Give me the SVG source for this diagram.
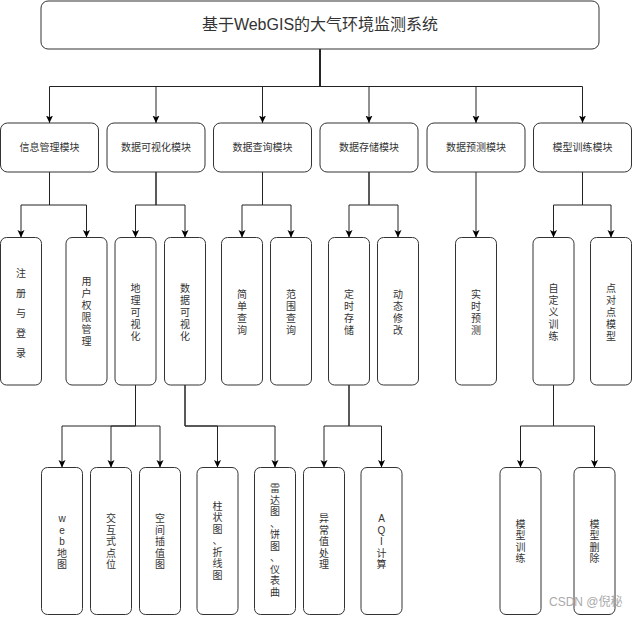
<svg xmlns="http://www.w3.org/2000/svg" width="632" height="617" viewBox="0 0 632 617">
<style>
.box{fill:#fff;stroke:#333;stroke-width:1}
.c{fill:none;stroke:#222;stroke-width:1;marker-end:url(#arr)}
text{font-family:"Liberation Sans","Noto Sans CJK SC",sans-serif;fill:#333;dominant-baseline:central;text-anchor:middle}
.t{font-size:16px}
.m{font-size:10px}
.v{font-size:10px}
.wm{font-size:12px;fill:#aaa;text-anchor:start}
</style>
<defs>
<marker id="arr" viewBox="0 0 8 8" markerWidth="8" markerHeight="8" refX="7.5" refY="4" orient="auto" markerUnits="userSpaceOnUse">
<path d="M0,0.5 L7.5,4 L0,7.5 L1.8,4 Z" fill="#000"/>
</marker>
</defs>

<g id="connectors">
<path class="c" d="M320,49 V86.5 H49.5 V123"/>
<path class="c" d="M320,49 V86.5 H156 V123"/>
<path class="c" d="M320,49 V86.5 H262.5 V123"/>
<path class="c" d="M320,49 V86.5 H369 V123"/>
<path class="c" d="M320,49 V86.5 H476 V123"/>
<path class="c" d="M320,49 V86.5 H582.5 V123"/>
<path class="c" d="M49.5,172 V205 H21 V237.5"/>
<path class="c" d="M49.5,172 V205 H86.5 V237.5"/>
<path class="c" d="M156,172 V205 H135.5 V237.5"/>
<path class="c" d="M156,172 V205 H185 V237.5"/>
<path class="c" d="M262.5,172 V205 H242 V237.5"/>
<path class="c" d="M262.5,172 V205 H291 V237.5"/>
<path class="c" d="M369,172 V205 H349 V237.5"/>
<path class="c" d="M369,172 V205 H398 V237.5"/>
<path class="c" d="M476,172 V237.5"/>
<path class="c" d="M582.5,172 V205 H553.5 V237.5"/>
<path class="c" d="M582.5,172 V205 H611 V237.5"/>
<path class="c" d="M135.5,385 V426 H62 V467.5"/>
<path class="c" d="M135.5,385 V426 H111 V467.5"/>
<path class="c" d="M135.5,385 V426 H160 V467.5"/>
<path class="c" d="M185,385 V426 H217.5 V467.5"/>
<path class="c" d="M185,385 V426 H275 V467.5"/>
<path class="c" d="M349,385 V426 H324 V467.5"/>
<path class="c" d="M349,385 V426 H381.5 V467.5"/>
<path class="c" d="M553.5,385 V426 H520.5 V467.5"/>
<path class="c" d="M553.5,385 V426 H594.5 V467.5"/>
</g>

<g id="root">
<rect class="box" x="41" y="1" width="558" height="48" rx="7"/>
<text class="t" x="320" y="24.5">基于WebGIS的大气环境监测系统</text>
</g>

<g id="m1"><rect class="box" x="0.5" y="123" width="98" height="49" rx="7"/><text class="m" x="49.5" y="147.5">信息管理模块</text></g>
<g id="m2"><rect class="box" x="107" y="123" width="98" height="49" rx="7"/><text class="m" x="156" y="147.5">数据可视化模块</text></g>
<g id="m3"><rect class="box" x="213.5" y="123" width="98" height="49" rx="7"/><text class="m" x="262.5" y="147.5">数据查询模块</text></g>
<g id="m4"><rect class="box" x="320" y="123" width="98" height="49" rx="7"/><text class="m" x="369" y="147.5">数据存储模块</text></g>
<g id="m5"><rect class="box" x="427" y="123" width="98" height="49" rx="7"/><text class="m" x="476" y="147.5">数据预测模块</text></g>
<g id="m6"><rect class="box" x="533.5" y="123" width="98" height="49" rx="7"/><text class="m" x="582.5" y="147.5">模型训练模块</text></g>

<g id="n-zhuce"><rect class="box" x="0.5" y="237.5" width="41" height="147.5" rx="6"/>
<text class="v"><tspan x="21" y="272.5">注</tspan><tspan x="21" y="292.5">册</tspan><tspan x="21" y="312.5">与</tspan><tspan x="21" y="332.5">登</tspan><tspan x="21" y="352.5">录</tspan></text></g>
<g id="n-quanxian"><rect class="box" x="66" y="237.5" width="41" height="147.5" rx="6"/>
<text class="v"><tspan x="86.5" y="281">用</tspan><tspan x="86.5" y="293">户</tspan><tspan x="86.5" y="305">权</tspan><tspan x="86.5" y="317">限</tspan><tspan x="86.5" y="329">管</tspan><tspan x="86.5" y="341">理</tspan></text></g>
<g id="n-dili"><rect class="box" x="115" y="237.5" width="41" height="147.5" rx="6"/>
<text class="v"><tspan x="135.5" y="288">地</tspan><tspan x="135.5" y="300">理</tspan><tspan x="135.5" y="312">可</tspan><tspan x="135.5" y="324">视</tspan><tspan x="135.5" y="336">化</tspan></text></g>
<g id="n-shuju"><rect class="box" x="164.5" y="237.5" width="41" height="147.5" rx="6"/>
<text class="v"><tspan x="185" y="288">数</tspan><tspan x="185" y="300">据</tspan><tspan x="185" y="312">可</tspan><tspan x="185" y="324">视</tspan><tspan x="185" y="336">化</tspan></text></g>
<g id="n-jiandan"><rect class="box" x="221.5" y="237.5" width="41" height="147.5" rx="6"/>
<text class="v"><tspan x="242" y="294">简</tspan><tspan x="242" y="306">单</tspan><tspan x="242" y="318">查</tspan><tspan x="242" y="330">询</tspan></text></g>
<g id="n-fanwei"><rect class="box" x="270.5" y="237.5" width="41" height="147.5" rx="6"/>
<text class="v"><tspan x="291" y="294">范</tspan><tspan x="291" y="306">围</tspan><tspan x="291" y="318">查</tspan><tspan x="291" y="330">询</tspan></text></g>
<g id="n-dingshi"><rect class="box" x="328.5" y="237.5" width="41" height="147.5" rx="6"/>
<text class="v"><tspan x="349" y="294">定</tspan><tspan x="349" y="306">时</tspan><tspan x="349" y="318">存</tspan><tspan x="349" y="330">储</tspan></text></g>
<g id="n-dongtai"><rect class="box" x="377.5" y="237.5" width="41" height="147.5" rx="6"/>
<text class="v"><tspan x="398" y="294">动</tspan><tspan x="398" y="306">态</tspan><tspan x="398" y="318">修</tspan><tspan x="398" y="330">改</tspan></text></g>
<g id="n-shishi"><rect class="box" x="455.5" y="237.5" width="41" height="147.5" rx="6"/>
<text class="v"><tspan x="476" y="294">实</tspan><tspan x="476" y="306">时</tspan><tspan x="476" y="318">预</tspan><tspan x="476" y="330">测</tspan></text></g>
<g id="n-zidingyi"><rect class="box" x="533" y="237.5" width="41" height="147.5" rx="6"/>
<text class="v"><tspan x="553.5" y="288">自</tspan><tspan x="553.5" y="300">定</tspan><tspan x="553.5" y="312">义</tspan><tspan x="553.5" y="324">训</tspan><tspan x="553.5" y="336">练</tspan></text></g>
<g id="n-diandui"><rect class="box" x="590.5" y="237.5" width="41" height="147.5" rx="6"/>
<text class="v"><tspan x="611" y="288">点</tspan><tspan x="611" y="300">对</tspan><tspan x="611" y="312">点</tspan><tspan x="611" y="324">模</tspan><tspan x="611" y="336">型</tspan></text></g>

<g id="n-webmap"><rect class="box" x="41.5" y="467.5" width="41" height="147" rx="6"/>
<text class="v"><tspan x="62" y="518">w</tspan><tspan x="62" y="529.5">e</tspan><tspan x="62" y="541">b</tspan><tspan x="62" y="552.5">地</tspan><tspan x="62" y="564">图</tspan></text></g>
<g id="n-jiaohu"><rect class="box" x="90.5" y="467.5" width="41" height="147" rx="6"/>
<text class="v"><tspan x="111" y="518">交</tspan><tspan x="111" y="529.5">互</tspan><tspan x="111" y="541">式</tspan><tspan x="111" y="552.5">点</tspan><tspan x="111" y="564">位</tspan></text></g>
<g id="n-chazhi"><rect class="box" x="139.5" y="467.5" width="41" height="147" rx="6"/>
<text class="v"><tspan x="160" y="518">空</tspan><tspan x="160" y="529.5">间</tspan><tspan x="160" y="541">插</tspan><tspan x="160" y="552.5">值</tspan><tspan x="160" y="564">图</tspan></text></g>
<g id="n-zhuzhuang"><rect class="box" x="197" y="467.5" width="41" height="147" rx="6"/>
<text class="v"><tspan x="217.5" y="505.5">柱</tspan><tspan x="217.5" y="517">状</tspan><tspan x="217.5" y="528.5">图</tspan><tspan x="217.5" y="540">、</tspan><tspan x="217.5" y="551.5">折</tspan><tspan x="217.5" y="563">线</tspan><tspan x="217.5" y="574.5">图</tspan></text></g>
<g id="n-leida"><rect class="box" x="254.5" y="467.5" width="41" height="147" rx="6"/>
<text class="v"><tspan x="275" y="488">雷</tspan><tspan x="275" y="499.5">达</tspan><tspan x="275" y="511">图</tspan><tspan x="275" y="522.5">、</tspan><tspan x="275" y="534">饼</tspan><tspan x="275" y="545.5">图</tspan><tspan x="275" y="557">、</tspan><tspan x="275" y="568.5">仪</tspan><tspan x="275" y="580">表</tspan><tspan x="275" y="591.5">曲</tspan></text></g>
<g id="n-yichang"><rect class="box" x="303.5" y="467.5" width="41" height="147" rx="6"/>
<text class="v"><tspan x="324" y="518">异</tspan><tspan x="324" y="529.5">常</tspan><tspan x="324" y="541">值</tspan><tspan x="324" y="552.5">处</tspan><tspan x="324" y="564">理</tspan></text></g>
<g id="n-aqi"><rect class="box" x="361" y="467.5" width="41" height="147" rx="6"/>
<text class="v"><tspan x="381.5" y="518">A</tspan><tspan x="381.5" y="529.5">Q</tspan><tspan x="381.5" y="541">I</tspan><tspan x="381.5" y="552.5">计</tspan><tspan x="381.5" y="564">算</tspan></text></g>
<g id="n-xunlian"><rect class="box" x="500" y="467.5" width="41" height="147" rx="6"/>
<text class="v"><tspan x="520.5" y="523.5">模</tspan><tspan x="520.5" y="535">型</tspan><tspan x="520.5" y="546.5">训</tspan><tspan x="520.5" y="558">练</tspan></text></g>
<g id="n-shanchu"><rect class="box" x="574" y="467.5" width="41" height="147" rx="6"/>
<text class="v"><tspan x="594.5" y="523.5">模</tspan><tspan x="594.5" y="535">型</tspan><tspan x="594.5" y="546.5">删</tspan><tspan x="594.5" y="558">除</tspan></text></g>

<text class="wm" x="549" y="602">CSDN @倪秘</text>
</svg>
